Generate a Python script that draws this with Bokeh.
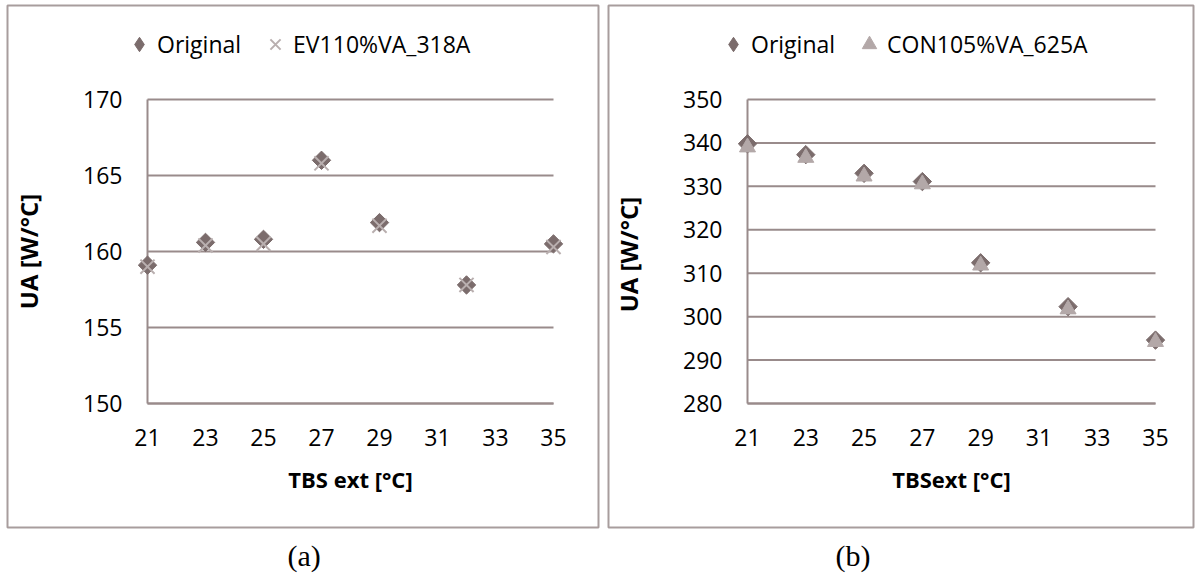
from bokeh.plotting import figure
from bokeh.layouts import row
from bokeh.models import Range1d, FixedTicker, Legend, LegendItem, Title
from bokeh.embed import file_html
from bokeh.resources import INLINE
import math

# --- data -------------------------------------------------------------
tbs_ext = [21, 23, 25, 27, 29, 32, 35]
x_ticks = [21, 23, 25, 27, 29, 31, 33, 35]

ua_orig_a = [159.1, 160.6, 160.8, 166.0, 161.9, 157.8, 160.5]
ua_ev110 = [159.0, 160.4, 160.5, 165.8, 161.7, 157.8, 160.3]
y_ticks_a = [150, 155, 160, 165, 170]

ua_orig_b = [339.8, 337.3, 333.0, 331.1, 312.4, 302.3, 294.6]
ua_con105 = [339.0, 336.6, 332.3, 330.5, 311.8, 301.7, 294.2]
y_ticks_b = [280, 290, 300, 310, 320, 330, 340, 350]

# --- style ------------------------------------------------------------
FONT = "Open Sans"
GRID = "#998b8b"
FRAME = "#a89d9d"
DARK = "#7b6c6c"
LIGHT = "#b9afaf"
TRI = "#b3a8a8"

H = 584
BOX_TOP, BOX_BOTTOM = 5, 527          # chart-area box (pixels)
PLOT_TOP, PLOT_BOTTOM = 99, 403       # plot-area top / bottom (pixels)
LEGEND_MID = 44                       # legend row centre (pixels)
GLYPH = 36                            # legend glyph box
NAN = float("nan")


def panel(width, box, plot_x, yticks, xlabel, ylabel, ys, marker2, name2,
          caption, caption_left, legend_left):
    """box: (left, right) of the chart area; plot_x: pixels of first/last x tick."""
    x0, x1 = x_ticks[0], x_ticks[-1]
    y0, y1 = yticks[0], yticks[-1]
    # data ranges chosen so that the frame is the whole chart-area box
    kx = (x1 - x0) / (plot_x[1] - plot_x[0])
    ky = (y1 - y0) / (PLOT_BOTTOM - PLOT_TOP)
    xr = Range1d(x0 - (plot_x[0] - box[0]) * kx, x1 + (box[1] - plot_x[1]) * kx)
    yr = Range1d(y0 - (BOX_BOTTOM - PLOT_BOTTOM) * ky, y1 + (PLOT_TOP - BOX_TOP) * ky)

    p = figure(width=width, height=H, output_backend="svg",
               toolbar_location=None, x_range=xr, y_range=yr,
               min_border_left=box[0], min_border_right=width - box[1],
               min_border_top=BOX_TOP, min_border_bottom=H - BOX_BOTTOM)
    p.outline_line_color = FRAME
    p.outline_line_width = 2
    p.background_fill_color = "white"
    p.border_fill_color = "white"
    p.grid.visible = False

    # horizontal gridlines across the plot area
    p.segment(x0=[x0] * len(yticks), x1=[x1] * len(yticks), y0=yticks,
              y1=yticks, line_color=GRID, line_width=2)

    p.xaxis.ticker = FixedTicker(ticks=x_ticks)
    p.yaxis.ticker = FixedTicker(ticks=yticks)
    p.xaxis.fixed_location = y0
    p.yaxis.fixed_location = x0
    p.xaxis.bounds = (x0, x1)
    p.yaxis.bounds = (y0, y1)
    for ax in (p.xaxis[0], p.yaxis[0]):
        ax.axis_line_color = GRID
        ax.axis_line_width = 2
        ax.major_tick_line_color = None
        ax.minor_tick_line_color = None
        ax.major_tick_out = 0
        ax.major_tick_in = 0
        ax.major_label_text_font = FONT
        ax.major_label_text_font_size = "23px"
        ax.major_label_text_color = "black"
        ax.axis_label_text_font = FONT
        ax.axis_label_text_font_style = "bold"
        ax.axis_label_text_color = "black"
        ax.level = "underlay"
    p.xaxis.axis_label_text_font_size = "22px"
    p.yaxis.axis_label_text_font_size = "24px"
    p.xaxis.major_label_standoff = 25
    p.yaxis.major_label_standoff = 25
    p.xaxis.axis_label = xlabel
    p.yaxis.axis_label = ylabel
    p.xaxis.axis_label_standoff = 15
    p.yaxis.axis_label_standoff = 35

    p.scatter(tbs_ext, ys[0], marker="square", angle=math.pi / 4,
              size=13, fill_color=DARK, line_color=DARK)
    if marker2 == "x":
        r2 = p.scatter(tbs_ext, ys[1], marker="x", size=20,
                       line_color=LIGHT, line_width=2)
    else:
        r2 = p.scatter(tbs_ext, ys[1], marker="triangle", size=16,
                       fill_color=TRI, line_color=TRI)
    # legend key for the diamond series (no visible point of its own)
    key1 = p.scatter([NAN], [NAN], marker="diamond", size=16,
                     fill_color=DARK, line_color=DARK)

    legend = Legend(items=[LegendItem(label="Original", renderers=[key1]),
                           LegendItem(label=name2, renderers=[r2])],
                    orientation="horizontal",
                    location=(legend_left - box[0],
                              BOX_BOTTOM - (LEGEND_MID + GLYPH // 2)),
                    glyph_width=GLYPH, glyph_height=GLYPH, label_standoff=0,
                    spacing=16, padding=0, margin=0,
                    border_line_color=None, background_fill_alpha=0,
                    label_text_font=FONT, label_text_font_size="23px",
                    label_text_color="black")
    p.add_layout(legend, "center")

    p.add_layout(Title(text=caption, align="left",
                       offset=caption_left - box[0], standoff=18,
                       text_font="Liberation Serif", text_font_size="30px",
                       text_font_style="normal", text_color="black"), "below")
    return p


pa = panel(603, (7, 598), (147, 553), y_ticks_a, "TBS ext [°C]", "UA [W/°C]",
           (ua_orig_a, ua_ev110), "x", "EV110%VA_318A", "(a)", 287, 121)
pb = panel(593, (5, 590), (747 - 603, 1155 - 603), y_ticks_b, "TBSext [°C]",
           "UA  [W/°C]", (ua_orig_b, ua_con105), "triangle", "CON105%VA_625A",
           "(b)", 835 - 603, 715 - 603)

layout = row(pa, pb)
open("out.html", "w").write(file_html(layout, INLINE))
